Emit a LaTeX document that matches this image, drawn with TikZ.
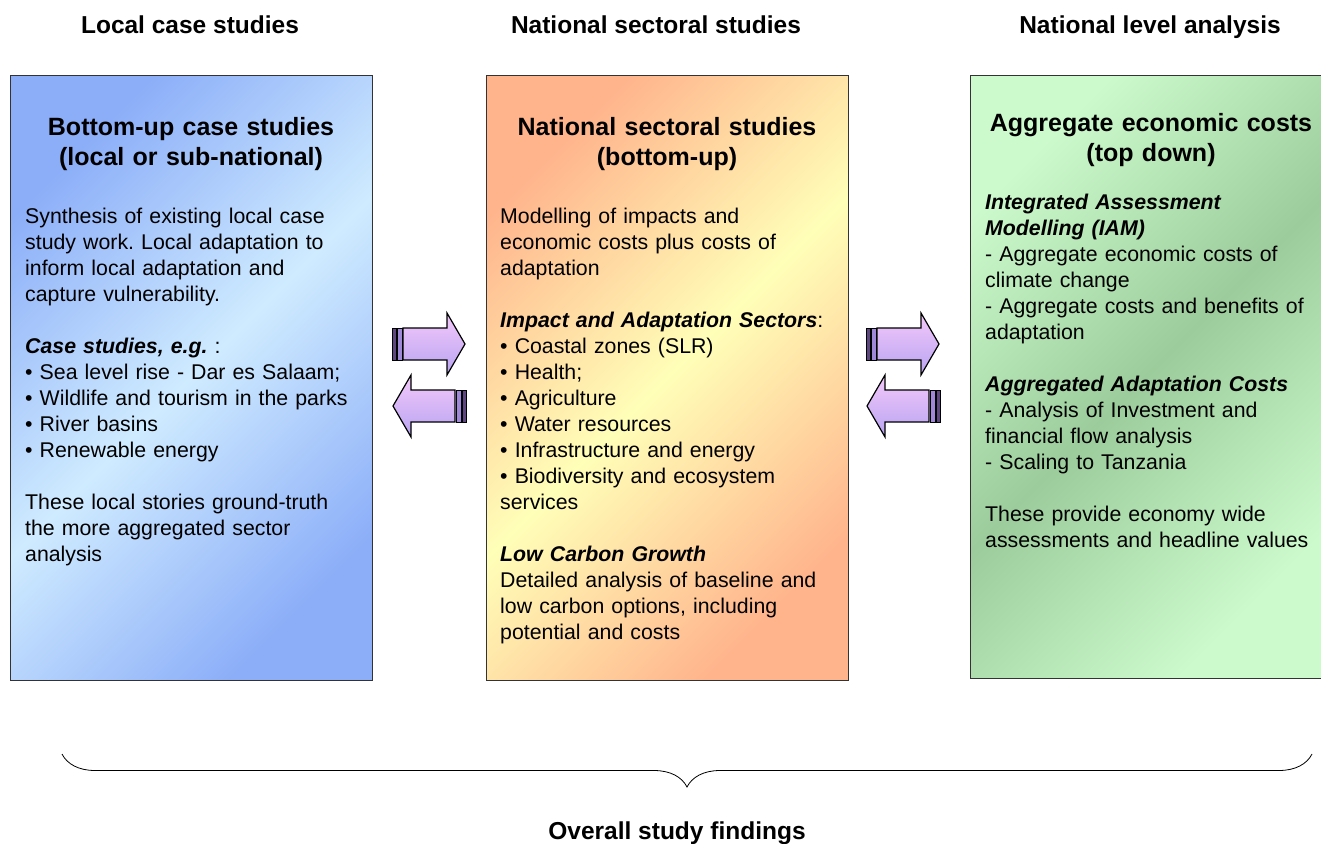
\documentclass[tikz,border=0pt]{standalone}
\usepackage{fontspec}
\setmainfont{Liberation Sans}
\usetikzlibrary{decorations.pathreplacing}
\frenchspacing

\definecolor{blueDeep}{HTML}{8CAEF8}
\definecolor{blueLight}{HTML}{CFEBFF}
\definecolor{orangeDeep}{HTML}{FFB48C}
\definecolor{yellowLight}{HTML}{FFFFB8}
\definecolor{greenDeep}{HTML}{9CCC9C}
\definecolor{greenLight}{HTML}{CCFACC}
\definecolor{arrowTop}{HTML}{F4C8FA}
\definecolor{arrowBot}{HTML}{B8A4F2}
\definecolor{stripeDark}{HTML}{5E4680}
\definecolor{stripeMid}{HTML}{A088D8}
\definecolor{panelEdge}{HTML}{333333}

\newcommand\emhead[1]{\textbf{\textit{#1}}}

\tikzset{
  x=1pt, y=-1pt,
  panel/.style={draw=panelEdge, line width=0.9pt, minimum width=362pt, minimum height=605pt, inner sep=0pt},
  header/.style={font=\fontsize{24.5}{30}\selectfont\bfseries, anchor=base, inner sep=0pt},
  paneltitle/.style={font=\fontsize{25}{30}\selectfont\bfseries, align=center, text width=360pt, anchor=base, inner sep=0pt},
  body/.style={font=\fontsize{21.3}{26}\selectfont\frenchspacing, align=left, anchor=base west, inner sep=0pt, text width=400pt},
  flowarrow/.pic={
    \filldraw[fill=stripeDark, draw=black, line width=0.8pt] (0,-16) rectangle (4,16);
    \filldraw[fill=stripeMid, draw=black, line width=0.8pt] (5,-16) rectangle (10,16);
    \shade[top color=arrowTop, bottom color=arrowBot, draw=black, line width=1.2pt, line join=miter]
      (11,-16) -- (55,-16) -- (55,-31) -- (73,0) -- (55,31) -- (55,16) -- (11,16) -- cycle;
  }
}

\begin{document}
\begin{tikzpicture}
\useasboundingbox (0,0) rectangle (1321,843);

% column headers
\node[header] (hLocal) at (190,34) {Local case studies};
\node[header] (hSector) at (656,34) {National sectoral studies};
\node[header] (hNational) at (1150,34) {National level analysis};

% shaded panels
\node[panel, top color=blueDeep, bottom color=blueDeep, middle color=blueLight, shading angle=45]
  (pLocal) at (191,377.5) {};
\node[panel, top color=orangeDeep, bottom color=orangeDeep, middle color=yellowLight, shading angle=45]
  (pSector) at (667,377.5) {};
\node[panel, top color=greenLight, bottom color=greenLight, middle color=greenDeep, shading angle=45,
  minimum width=351pt, minimum height=603pt]
  (pNational) at (1145.5,376.5) {};

% panel titles
\node[paneltitle] (tLocal) at (191,135) {Bottom-up case studies\\(local or sub-national)};
\node[paneltitle] (tSector) at (667,135) {National sectoral studies\\(bottom-up)};
\node[paneltitle] (tNational) at (1151,131) {Aggregate economic costs\\(top down)};

% panel bodies
\node[body] (bLocal) at (25,223) {%
Synthesis of existing local case\\
study work. Local adaptation to\\
inform local adaptation and\\
capture vulnerability.\\[26pt]
\emhead{Case studies, e.g.} :\\
• Sea level rise - Dar es Salaam;\\
• Wildlife and tourism in the parks\\
• River basins\\
• Renewable energy\\[26pt]
These local stories ground-truth\\
the more aggregated sector\\
analysis};

\node[body] (bSector) at (500,223) {%
Modelling of impacts and\\
economic costs plus costs of\\
adaptation\\[26pt]
\emhead{Impact and Adaptation Sectors}:\\
• Coastal zones (SLR)\\
• Health;\\
• Agriculture\\
• Water resources\\
• Infrastructure and energy\\
• Biodiversity and ecosystem\\
services\\[26pt]
\emhead{Low Carbon Growth}\\
Detailed analysis of baseline and\\
low carbon options, including\\
potential and costs};

\node[body] (bNational) at (985,209) {%
\emhead{Integrated Assessment}\\
\emhead{Modelling (IAM)}\\
- Aggregate economic costs of\\
climate change\\
- Aggregate costs and benefits of\\
adaptation\\[26pt]
\emhead{Aggregated Adaptation Costs}\\
- Analysis of Investment and\\
financial flow analysis\\
- Scaling to Tanzania\\[26pt]
These provide economy wide\\
assessments and headline values};

% exchange arrows between panels
\pic (fwdA) at (392,344) {flowarrow};
\pic[xscale=-1] (backA) at (466,406) {flowarrow};
\pic (fwdB) at (866,344) {flowarrow};
\pic[xscale=-1] (backB) at (940,406) {flowarrow};

% closing brace and caption
\coordinate (braceL) at (62,754);
\coordinate (braceR) at (1312,754);
\draw[line width=0.8pt, decorate, decoration={brace, amplitude=33pt, mirror}] (braceL) -- (braceR);
\node[header] (findings) at (677,839) {Overall study findings};
\end{tikzpicture}
\end{document}
